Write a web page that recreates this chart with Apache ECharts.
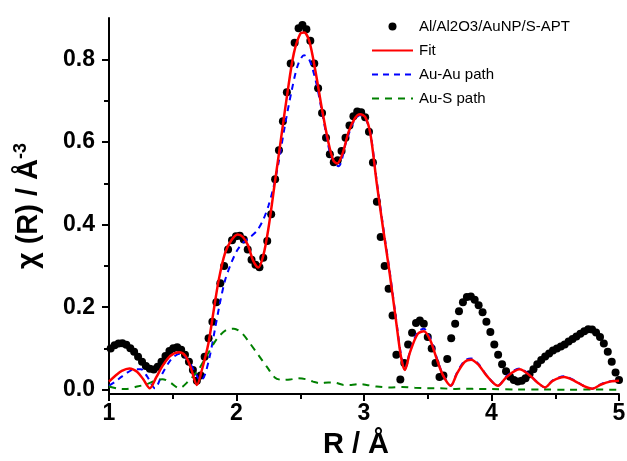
<!DOCTYPE html>
<html>
<head>
<meta charset="utf-8">
<script src="https://cdn.jsdelivr.net/npm/echarts@6/dist/echarts.min.js"></script>
<style>
html,body{margin:0;padding:0;background:#fff;}
#c{width:627px;height:461px;}
</style>
</head>
<body>
<div id="c"></div>
<script>
// ---- data ----
const seriesNames = ['Al/Al2O3/AuNP/S-APT', 'Fit', 'Au-Au path', 'Au-S path'];
const xTicks = [1, 2, 3, 4, 5];
const yTicks = [0, 0.2, 0.4, 0.6, 0.8];
const yMinorTicks = [0.1, 0.3, 0.5, 0.7];

// experimental points
const expR = [1.013,1.044,1.075,1.105,1.136,1.167,1.197,1.228,1.259,1.289,1.320,1.351,1.382,1.412,1.443,1.474,1.504,1.535,1.566,1.596,1.627,1.658,1.689,1.719,1.750,1.781,1.811,1.842,1.873,1.903,1.934,1.965,1.996,2.026,2.057,2.088,2.118,2.149,2.180,2.210,2.241,2.272,2.303,2.333,2.364,2.395,2.425,2.456,2.487,2.517,2.548,2.579,2.610,2.640,2.671,2.702,2.732,2.763,2.794,2.824,2.855,2.886,2.917,2.947,2.978,3.009,3.039,3.070,3.101,3.131,3.162,3.193,3.224,3.254,3.285,3.316,3.346,3.377,3.408,3.438,3.469,3.500,3.531,3.561,3.592,3.623,3.653,3.684,3.715,3.745,3.776,3.807,3.838,3.868,3.899,3.930,3.960,3.991,4.022,4.052,4.083,4.114,4.145,4.175,4.206,4.237,4.267,4.298,4.329,4.359,4.390,4.421,4.452,4.482,4.513,4.544,4.574,4.605,4.636,4.666,4.697,4.728,4.759,4.789,4.820,4.851,4.881,4.912,4.943,4.973,5.000];
const expChi = [0.100,0.108,0.112,0.113,0.109,0.101,0.092,0.080,0.068,0.058,0.051,0.049,0.056,0.068,0.082,0.094,0.101,0.103,0.097,0.085,0.068,0.048,0.022,0.035,0.080,0.125,0.165,0.212,0.258,0.300,0.340,0.362,0.372,0.373,0.364,0.340,0.315,0.303,0.297,0.320,0.360,0.425,0.510,0.580,0.650,0.720,0.790,0.840,0.875,0.883,0.873,0.845,0.790,0.730,0.670,0.610,0.570,0.551,0.556,0.578,0.610,0.640,0.662,0.674,0.672,0.660,0.625,0.550,0.455,0.370,0.300,0.245,0.180,0.085,0.025,0.065,0.110,0.138,0.162,0.168,0.160,0.128,0.100,0.065,0.031,0.035,0.075,0.125,0.160,0.190,0.212,0.225,0.226,0.218,0.205,0.188,0.165,0.140,0.110,0.085,0.062,0.045,0.032,0.024,0.020,0.022,0.028,0.038,0.050,0.062,0.072,0.081,0.088,0.095,0.100,0.105,0.110,0.117,0.123,0.129,0.136,0.142,0.147,0.146,0.139,0.128,0.112,0.092,0.068,0.042,0.024];

// fit
const fitR = [1.00,1.05,1.10,1.16,1.22,1.27,1.32,1.37,1.42,1.48,1.55,1.60,1.64,1.69,1.73,1.78,1.82,1.86,1.91,1.96,2.01,2.05,2.09,2.13,2.17,2.21,2.25,2.30,2.35,2.40,2.45,2.50,2.53,2.57,2.62,2.67,2.72,2.76,2.79,2.83,2.88,2.93,2.97,3.01,3.05,3.10,3.15,3.20,3.25,3.29,3.32,3.36,3.42,3.47,3.52,3.57,3.62,3.68,3.73,3.79,3.84,3.90,3.96,4.05,4.12,4.22,4.30,4.36,4.42,4.48,4.57,4.65,4.72,4.79,4.86,4.93,5.00];
const fitChi = [0.020,0.034,0.046,0.052,0.044,0.025,0.004,0.030,0.058,0.082,0.091,0.082,0.055,0.012,0.050,0.113,0.190,0.265,0.331,0.362,0.376,0.370,0.350,0.313,0.296,0.325,0.390,0.500,0.610,0.720,0.815,0.862,0.865,0.845,0.770,0.680,0.600,0.555,0.548,0.570,0.625,0.658,0.667,0.660,0.620,0.500,0.390,0.285,0.170,0.080,0.048,0.090,0.135,0.142,0.120,0.075,0.035,0.010,0.040,0.068,0.073,0.060,0.035,0.010,0.032,0.050,0.035,0.018,0.006,0.022,0.031,0.022,0.010,0.003,0.013,0.020,0.022];

// Au-Au path
const auAuR = [1.00,1.05,1.10,1.15,1.20,1.25,1.30,1.36,1.42,1.49,1.56,1.62,1.67,1.72,1.75,1.79,1.83,1.87,1.91,1.95,2.00,2.05,2.10,2.16,2.21,2.25,2.29,2.33,2.38,2.43,2.48,2.53,2.57,2.62,2.66,2.70,2.74,2.80,2.86,2.92,2.97,3.01,3.05,3.10,3.15,3.20,3.25,3.29,3.32,3.36,3.42,3.47,3.52,3.57,3.62,3.68,3.73,3.79,3.84,3.90,3.96,4.05,4.12,4.22,4.30,4.36,4.42,4.48,4.57,4.65,4.72,4.79,4.86,4.93,5.00];
const auAuChi = [0.010,0.020,0.032,0.043,0.050,0.050,0.032,0.004,0.040,0.075,0.088,0.072,0.045,0.022,0.035,0.081,0.145,0.210,0.265,0.300,0.335,0.356,0.368,0.385,0.412,0.445,0.490,0.550,0.640,0.720,0.785,0.810,0.800,0.750,0.690,0.625,0.568,0.541,0.600,0.650,0.665,0.658,0.622,0.505,0.395,0.290,0.175,0.085,0.050,0.092,0.140,0.148,0.124,0.078,0.036,0.010,0.042,0.071,0.076,0.062,0.036,0.010,0.034,0.052,0.036,0.018,0.006,0.023,0.033,0.023,0.010,0.003,0.014,0.021,0.023];

// Au-S path
const auSR = [1.00,1.07,1.13,1.22,1.30,1.36,1.42,1.48,1.55,1.62,1.70,1.78,1.85,1.92,1.98,2.04,2.10,2.17,2.24,2.30,2.36,2.42,2.48,2.54,2.60,2.66,2.72,2.78,2.84,2.90,2.96,3.02,3.10,3.20,3.30,3.40,3.50,3.60,3.70,3.80,3.90,4.00,4.20,4.40,4.60,4.80,5.00];
const auSChi = [0.008,0.003,0.002,0.008,0.014,0.022,0.026,0.018,0.004,0.020,0.048,0.090,0.125,0.145,0.148,0.138,0.115,0.085,0.055,0.030,0.024,0.025,0.028,0.026,0.020,0.016,0.018,0.017,0.012,0.012,0.014,0.012,0.008,0.006,0.007,0.005,0.004,0.004,0.002,0.003,0.002,0.002,0.001,0.001,0.000,0.001,0.000];

const zip = (a, b) => a.map((v, i) => [v, b[i]]);

const FONT = '"Liberation Sans", Arial, sans-serif';
const chart = echarts.init(document.getElementById('c'), null, {renderer: 'canvas'});

const yAxisCommon = {
  type: 'value', position: 'left', min: -0.01, max: 0.9,
  splitLine: {show: false}
};
const noSym = {opacity: 0};

chart.setOption({
  backgroundColor: '#fff',
  animation: false,
  grid: {left: 109, right: 8, top: 18, bottom: 67, containLabel: false, outerBoundsMode: 'none'},
  legend: {
    orient: 'vertical', left: 366, top: 14,
    itemWidth: 41, itemHeight: 8, itemGap: 9,
    data: [
      {name: seriesNames[0], icon: 'circle', itemStyle: {color: '#000', opacity: 1}},
      {name: seriesNames[1], itemStyle: noSym},
      {name: seriesNames[2], itemStyle: noSym},
      {name: seriesNames[3], itemStyle: noSym}
    ],
    textStyle: {fontFamily: FONT, fontSize: 15, color: '#000', padding: [0,0,0,1]}
  },
  xAxis: {
    type: 'value', min: 1, max: 5, interval: 1,
    name: 'R / Å', nameLocation: 'middle', nameGap: 36,
    nameTextStyle: {fontFamily: FONT, fontSize: 29, fontWeight: 'bold', color: '#000', padding: [0, 16, 0, 0]},
    axisLine: {show: true, onZero: false, lineStyle: {color: '#000', width: 2}},
    axisTick: {show: true, inside: false, length: 7, lineStyle: {color: '#000', width: 2}},
    minorTick: {show: true, splitNumber: 2, length: 5, lineStyle: {color: '#000', width: 2}},
    axisLabel: {fontFamily: FONT, fontSize: 23, fontWeight: 'bold', color: '#000', margin: 8,
      customValues: xTicks, formatter: v => String(v)},
    splitLine: {show: false}
  },
  yAxis: [
    Object.assign({}, yAxisCommon, {
      name: 'χ (R) / Å{sup|-3}', nameLocation: 'middle', nameGap: 63,
      nameTextStyle: {fontFamily: FONT, fontSize: 29, fontWeight: 'bold', color: '#000',
        rich: {sup: {fontFamily: FONT, fontSize: 18, fontWeight: 'bold', color: '#000', verticalAlign: 'top', padding: [0,0,16,0]}}},
      axisLine: {show: true, onZero: false, lineStyle: {color: '#000', width: 2}},
      axisTick: {show: true, inside: false, length: 7, customValues: yTicks, lineStyle: {color: '#000', width: 2}},
      axisLabel: {fontFamily: FONT, fontSize: 23, fontWeight: 'bold', color: '#000', margin: 14,
        customValues: yTicks, formatter: v => v.toFixed(1)}
    }),
    Object.assign({}, yAxisCommon, {
      axisLine: {show: false, onZero: false},
      axisTick: {show: true, inside: false, length: 5, customValues: yMinorTicks, lineStyle: {color: '#000', width: 2}},
      axisLabel: {show: false}
    })
  ],
  series: [
    {
      name: seriesNames[0], type: 'scatter', data: zip(expR, expChi),
      symbol: 'circle', symbolSize: 8, itemStyle: {color: '#000', opacity: 1}, z: 1
    },
    {
      name: seriesNames[2], type: 'line', data: zip(auAuR, auAuChi),
      showSymbol: false, symbol: 'none', smooth: 0.3,
      lineStyle: {color: '#0000ff', width: 2, type: [6, 5]}, itemStyle: {color: '#0000ff'}, z: 2
    },
    {
      name: seriesNames[3], type: 'line', data: zip(auSR, auSChi),
      showSymbol: false, symbol: 'none', smooth: 0.3,
      lineStyle: {color: '#008000', width: 2, type: [7, 6]}, itemStyle: {color: '#008000'}, z: 2
    },
    {
      name: seriesNames[1], type: 'line', data: zip(fitR, fitChi),
      showSymbol: false, symbol: 'none', smooth: 0.3,
      lineStyle: {color: '#ff0000', width: 2.5}, itemStyle: {color: '#ff0000'}, z: 3
    }
  ]
});
</script>
</body>
</html>
